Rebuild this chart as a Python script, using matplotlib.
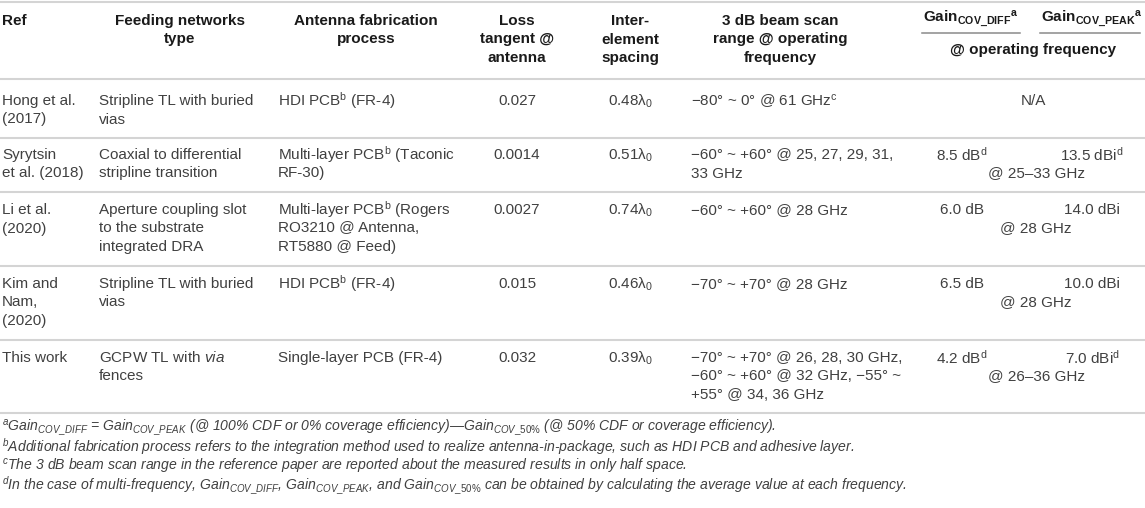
import matplotlib.pyplot as plt

# ----------------------------------------------------------
# Table content
# ----------------------------------------------------------

headers = [
    "Ref",
    "Feeding networks\ntype",
    "Antenna fabrication\nprocess",
    "Loss\ntangent @\nantenna",
    "Inter-\nelement\nspacing",
    "3 dB beam scan\nrange @ operating\nfrequency",
]
gain_headers = [
    r"Gain$_{\mathbf{COV\_DIFF}}$$^{\mathbf{a}}$",
    r"Gain$_{\mathbf{COV\_PEAK}}$$^{\mathbf{a}}$",
]
gain_common_header = "@ operating frequency"

refs = [
    "Hong et al.\n(2017)",
    "Syrytsin\net al. (2018)",
    "Li et al.\n(2020)",
    "Kim and\nNam,\n(2020)",
    "This work",
]
feeding = [
    "Stripline TL with buried\nvias",
    "Coaxial to differential\nstripline transition",
    "Aperture coupling slot\nto the substrate\nintegrated DRA",
    "Stripline TL with buried\nvias",
    r"GCPW TL with $\mathit{via}$" + "\nfences",
]
fabrication = [
    r"HDI PCB$^{\mathrm{b}}$ (FR-4)",
    r"Multi-layer PCB$^{\mathrm{b}}$ (Taconic" + "\nRF-30)",
    r"Multi-layer PCB$^{\mathrm{b}}$ (Rogers" + "\nRO3210 @ Antenna,\nRT5880 @ Feed)",
    r"HDI PCB$^{\mathrm{b}}$ (FR-4)",
    "Single-layer PCB (FR-4)",
]
loss_tangent = ["0.027", "0.0014", "0.0027", "0.015", "0.032"]
spacing = [0.48, 0.51, 0.74, 0.46, 0.39]
beam_scan = [
    r"−80° ~ 0° @ 61 GHz$^{\mathrm{c}}$",
    "−60° ~ +60° @ 25, 27, 29, 31,\n33 GHz",
    "−60° ~ +60° @ 28 GHz",
    "−70° ~ +70° @ 28 GHz",
    "−70° ~ +70° @ 26, 28, 30 GHz,\n−60° ~ +60° @ 32 GHz, −55° ~\n+55° @ 34, 36 GHz",
]
gain_diff = [None, r"8.5 dB$^{\mathrm{d}}$", "6.0 dB", "6.5 dB", r"4.2 dB$^{\mathrm{d}}$"]
gain_peak = [None, r"13.5 dBi$^{\mathrm{d}}$", "14.0 dBi", "10.0 dBi", r"7.0 dBi$^{\mathrm{d}}$"]
gain_freq = ["N/A", "@ 25–33 GHz", "@ 28 GHz", "@ 28 GHz", "@ 26–36 GHz"]

footnotes = [
    r"$^{\mathit{a}}$Gain$_{\mathit{COV\_DIFF}}$ = Gain$_{\mathit{COV\_PEAK}}$ (@ 100% CDF or 0% coverage "
    r"efficiency)—Gain$_{\mathit{COV\_50\%}}$ (@ 50% CDF or coverage efficiency).",
    r"$^{\mathit{b}}$Additional fabrication process refers to the integration method used to realize "
    r"antenna-in-package, such as HDI PCB and adhesive layer.",
    r"$^{\mathit{c}}$The 3 dB beam scan range in the reference paper are reported about the measured "
    r"results in only half space.",
    r"$^{\mathit{d}}$In the case of multi-frequency, Gain$_{\mathit{COV\_DIFF}}$, Gain$_{\mathit{COV\_PEAK}}$, "
    r"and Gain$_{\mathit{COV\_50\%}}$ can be obtained by calculating the average value at each frequency.",
]

# ----------------------------------------------------------
# Layout (pixel coordinates)
# ----------------------------------------------------------

W, H = 1145, 508
FS = 11.0
FS_NOTE = 10.1
PITCH = 18.5
TXT = "#404040"
HDR = "#1a1a1a"
RULE = "#d4d4d4"

# column anchors: body text x, header x
body_x = [2, 99, 278, 517, 630, 691]
body_ha = ["left", "left", "left", "center", "center", "left"]
header_x = [2, 180, 366, 517, 630, 780]
header_ha = ["left", "center", "center", "center", "center", "center"]
header_y = 21
rule_y = [2, 79, 138, 192, 266, 340, 413]
row_y = [101, 155, 210, 284, 358]

plt.rcParams["font.family"] = ["Liberation Sans", "DejaVu Sans"]
plt.rcParams["mathtext.fontset"] = "custom"
plt.rcParams["mathtext.rm"] = "Liberation Sans"
plt.rcParams["mathtext.it"] = "Liberation Sans:italic"
plt.rcParams["mathtext.bf"] = "Liberation Sans:bold"
plt.rcParams["mathtext.default"] = "rm"

fig = plt.figure(figsize=(W / 100, H / 100), dpi=100)
ax = fig.add_axes([0, 0, 1, 1])
ax.set_xlim(0, W)
ax.set_ylim(H, 0)
ax.axis("off")


def cell(x, y, text, ha="left", **kw):
    for i, line in enumerate(text.split("\n")):
        ax.text(x, y + i * PITCH, line, ha=ha, va="center", fontsize=FS, **kw)


# header
for x, ha, text in zip(header_x, header_ha, headers):
    cell(x, header_y, text, ha=ha, color=HDR, fontweight="bold")

ax.text(971, 19, gain_headers[0], ha="center", va="center", fontsize=FS,
        color=HDR, fontweight="bold")
ax.text(1092, 19, gain_headers[1], ha="center", va="center", fontsize=FS,
        color=HDR, fontweight="bold")
ax.plot([922, 1020], [33, 33], color="#8a8a8a", lw=1.1)
ax.plot([1040, 1140], [33, 33], color="#8a8a8a", lw=1.1)
ax.text(1033, 50, gain_common_header, ha="center", va="center",
        fontsize=FS, color=HDR, fontweight="bold")

# rules
for y in rule_y:
    ax.axhline(y, color=RULE, lw=1.5)

# body rows
for i, y in enumerate(row_y):
    columns = [
        refs[i],
        feeding[i],
        fabrication[i],
        loss_tangent[i],
        f"{spacing[i]:.2f}λ" + r"$_{\mathrm{0}}$",
        beam_scan[i],
    ]
    for x, ha, text in zip(body_x, body_ha, columns):
        cell(x, y, text, ha=ha, color=TXT)
    if gain_diff[i] is None:
        cell(1033, y, gain_freq[i], ha="center", color=TXT)
    else:
        cell(962, y, gain_diff[i], ha="center", color=TXT)
        cell(1092, y, gain_peak[i], ha="center", color=TXT)
        cell(1036, y + PITCH, gain_freq[i], ha="center", color=TXT)

# footnotes
for i, note in enumerate(footnotes):
    ax.text(2, 428 + i * 19, note, ha="left", va="center", fontsize=FS_NOTE,
            style="italic", color=TXT)

fig.savefig("out.png", dpi=100)
